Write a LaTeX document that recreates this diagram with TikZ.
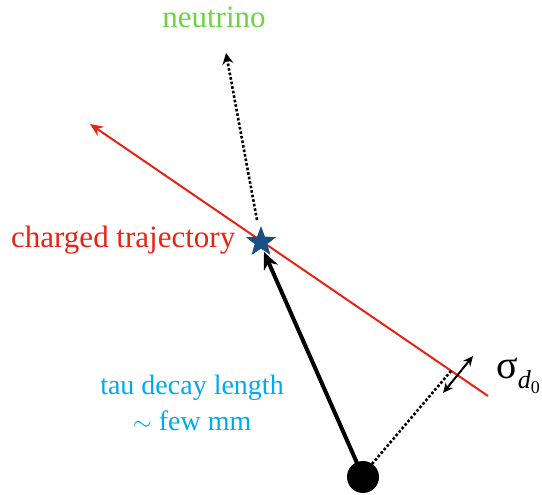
\documentclass[tikz,border=0pt]{standalone}
\usepackage{fontspec}
\setmainfont{Liberation Serif}
\usetikzlibrary{arrows.meta,shapes.geometric}
\definecolor{trkred}{RGB}{232,35,20}
\definecolor{nugreen}{RGB}{105,215,60}
\definecolor{taublue}{RGB}{0,170,240}
\definecolor{starblue}{RGB}{25,80,130}
\tikzset{
  lbl/.style={inner sep=0pt, font=\fontsize{31}{36}\selectfont},
  dotline/.style={line width=2.6pt, dotted, line cap=butt},
  starnode/.style={star, star points=5, star point ratio=2.4, fill=starblue, minimum size=31pt, inner sep=0pt},
}
\begin{document}
\begin{tikzpicture}[x=1pt,y=-1pt]
\useasboundingbox (0,0) rectangle (542,495);
% nodes / coordinates
\coordinate (trkA) at (90,124);
\coordinate (trkB) at (488,396);
\node[starnode] (st) at (261,242) {};
\node[circle, fill=black, minimum size=32pt, inner sep=0pt] (pv) at (363,477) {};
\coordinate (nutip) at (226,53);
\coordinate (perp) at (451,371);
\coordinate (sigA) at (443,393);
\coordinate (sigB) at (473,356);
% track
\draw[trkred, line width=2pt, -{Stealth[length=13pt,width=11pt]}] (trkB) -- (trkA);
% neutrino
\draw[dotline, -{Stealth[length=11pt,width=11pt]}] (st.north) ++(-4,-6) -- (nutip);
% tau
\draw[line width=4pt, -{Stealth[length=17pt,width=15pt]}] (pv) ++(-6,-14) -- (264,252);
\node[starnode] at (st) {};
% impact parameter
\draw[dotline] (pv) ++(9,-13) -- (perp);
\draw[line width=2pt, {Stealth[length=10pt,width=9pt]}-{Stealth[length=10pt,width=9pt]}] (sigA) -- (sigB);
% labels
\node[lbl, text=nugreen] (nu) at (214,17) {neutrino};
\node[lbl, text=trkred, anchor=west] (ct) at (11,240) {charged trajectory};
\node[lbl, text=taublue, align=center, font=\fontsize{28}{36}\selectfont] (tau) at (192,403) {tau decay length\\$\sim$ few mm};
\node[inner sep=0pt, font=\fontsize{40}{44}\selectfont, anchor=base west] (sig) at (496,378) {σ\raisebox{-0.25em}{\fontsize{26}{28}\selectfont\itshape d\raisebox{-0.2em}{\fontsize{18}{20}\selectfont\upshape 0}}};
\end{tikzpicture}
\end{document}
